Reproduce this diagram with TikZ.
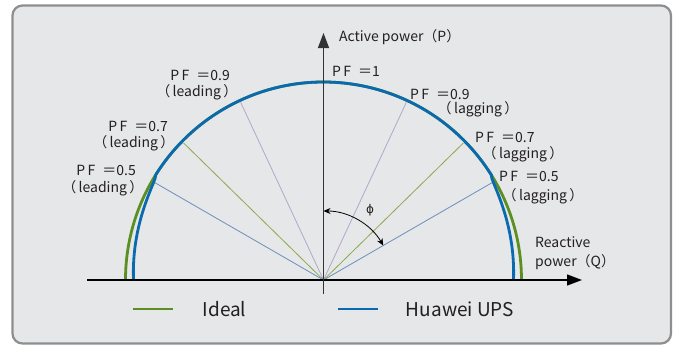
\documentclass[tikz,border=0pt]{standalone}
\usepackage{fontspec}
\setmainfont{Noto Sans CJK SC}
\newfontfamily\phifont{DejaVu Sans}
\usetikzlibrary{positioning,calc,arrows.meta}
\definecolor{panelbg}{HTML}{E6E7E8}
\definecolor{panelrule}{HTML}{8E8E8E}
\definecolor{idealgreen}{HTML}{5B8F22}
\definecolor{upsblue}{HTML}{0A6AB0}
\definecolor{lavender}{HTML}{B3A6CC}
\definecolor{olive}{HTML}{8AAA50}
\definecolor{steel}{HTML}{6B8FBF}
\definecolor{inkdark}{HTML}{231F20}
\tikzset{frame/.style={draw=panelrule, fill=panelbg, line width=2.2pt, rounded corners=10pt}}
\tikzset{pflabel/.style={inner sep=0pt, text=inkdark, font=\fontsize{14}{16}\selectfont}}
\tikzset{legendtext/.style={inner sep=0pt, text=inkdark, font=\fontsize{19}{22}\selectfont}}
\tikzset{axisarr/.style={draw=black, line width=1.3pt, -{Triangle[length=15pt,width=11pt]}}}
\tikzset{pfline/.style={line width=0.8pt}}
\tikzset{ideal/.style={draw=idealgreen, line width=2.8pt}}
\tikzset{ups/.style={draw=upsblue, line width=2.8pt}}
\tikzset{phiarr/.style={draw=black, line width=0.8pt, {Stealth[length=7pt,width=6pt]}-{Stealth[length=7pt,width=6pt]}}}
\newcommand\pfval[1]{P\,F\hspace{7pt}＝#1}
\newcommand\pfmode[1]{（\,#1\,）}

\begin{document}
\begin{tikzpicture}[x=1pt, y=1pt]
	\useasboundingbox (-323.5,-66) rectangle (353.5,280);
	\draw[frame] (-311,-63.5) rectangle (347.5,274.5);

	\coordinate (O) at (0,0);
	\coordinate (qstart) at (-236.5,0);
	\coordinate (qend) at (258.5,0);
	\coordinate (pstart) at (0,-14);
	\coordinate (pend) at (0,247);

	% power factor rays
	\foreach \ang/\name/\col in {30/lag5/steel, 44.4/lag7/olive, 65/lag9/lavender,
			115/lead9/lavender, 135.6/lead7/olive, 150/lead5/steel} {
		\coordinate (\name) at (\ang:196);
		\draw[pfline, draw=\col] (O) -- (\name);
	}

	% ideal and ups curves
	\draw[ideal] (198,0) arc[start angle=0, end angle=180, radius=198];
	\draw[ups] plot[domain=0:32, samples=40, smooth]
			({(198-8*sqrt(abs(1-\x/32)))*cos(\x)}, {(198-8*sqrt(abs(1-\x/32)))*sin(\x)})
		arc[start angle=32, end angle=148, radius=198]
		plot[domain=148:180, samples=40, smooth]
			({(198-8*sqrt(abs(1-(180-\x)/32)))*cos(\x)}, {(198-8*sqrt(abs(1-(180-\x)/32)))*sin(\x)});

	\draw[axisarr] (qstart) -- (qend);
	\draw[axisarr, draw=black!80] (pstart) -- (pend);

	% angle phi
	\coordinate (phis) at (90:69);
	\draw[phiarr] (phis) arc[start angle=90, end angle=30, radius=69];
	\node[inner sep=0pt, text=inkdark, font=\phifont\fontsize{12}{14}\selectfont] (phi) at (46.5,70) {ϕ};

	% axis labels
	\node[pflabel, anchor=west] (ptitle) at (15.5,243.3) {Active power（P）};
	\node[pflabel, anchor=west] (qtitle) at (211.5,38) {Reactive};
	\node[pflabel, anchor=west] (qtitle2) at (211.5,18) {power（Q）};

	% power factor labels
	\node[pflabel, anchor=west] (pfone) at (8.5,208.3) {\pfval{1}};
	\node[pflabel, anchor=west] (pflag9) at (86.5,186) {\pfval{0.9}};
	\node[pflabel, anchor=west] (lag9t) at (114,171) {\pfmode{lagging}};
	\node[pflabel, anchor=west] (pflag7) at (151.5,143) {\pfval{0.7}};
	\node[pflabel, anchor=west] (lag7t) at (159,126) {\pfmode{lagging}};
	\node[pflabel, anchor=west] (pflag5) at (175.5,104) {\pfval{0.5}};
	\node[pflabel, anchor=west] (lag5t) at (179,84) {\pfmode{lagging}};
	\node[pflabel, anchor=east] (pflead9) at (-93.5,205) {\pfval{0.9}};
	\node[pflabel, anchor=east] (lead9t) at (-86,188) {\pfmode{leading}};
	\node[pflabel, anchor=east] (pflead7) at (-155.5,154) {\pfval{0.7}};
	\node[pflabel, anchor=east] (lead7t) at (-149,137) {\pfmode{leading}};
	\node[pflabel, anchor=east] (pflead5) at (-187.5,110) {\pfval{0.5}};
	\node[pflabel, anchor=east] (lead5t) at (-180,92) {\pfmode{leading}};

	% legend
	\coordinate (gl1) at (-190.5,-29);
	\coordinate (gl2) at (-150.5,-29);
	\draw[ideal] (gl1) -- (gl2);
	\node[legendtext] (idealtxt) at (-99,-29) {Ideal};
	\coordinate (bl1) at (14.5,-29);
	\coordinate (bl2) at (54.5,-29);
	\draw[ups] (bl1) -- (bl2);
	\node[legendtext] (upstxt) at (136.5,-29) {Huawei UPS};
\end{tikzpicture}
\end{document}
